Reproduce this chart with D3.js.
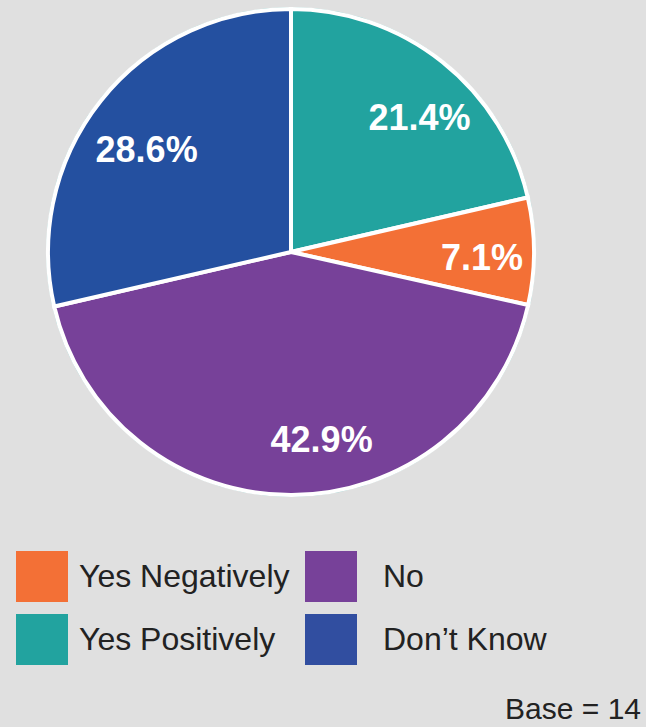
<!DOCTYPE html>
<html><head><meta charset="utf-8">
<script src="https://cdn.jsdelivr.net/npm/d3@7"></script>
<style>
html,body{margin:0;padding:0;background:#E0E0E0;}
svg{display:block;font-family:"Liberation Sans",Arial,sans-serif;}
</style></head>
<body><svg id="c" width="646" height="727"></svg>
<script>
const categories = ["Yes Positively","Yes Negatively","No","Don’t Know"];
const values = [21.4, 7.1, 42.9, 28.6];
const labels = ["21.4%","7.1%","42.9%","28.6%"];
const colors = ["#22A39F","#F37036","#774199","#2450A0"];
const legendOrder = ["Yes Negatively","No","Yes Positively","Don’t Know"];
const legendColors = {"Yes Negatively":"#F37036","No":"#774199","Yes Positively":"#22A39F","Don’t Know":"#314EA0"};
const baseText = "Base = 14";

const svg = d3.select("#c");
const cx = 291, cy = 252, R = 243;
const g = svg.append("g").attr("transform", `translate(${cx},${cy})`);
const pie = d3.pie().sort(null).value(d => d)(values);
const arc = d3.arc().innerRadius(0).outerRadius(R);
const labelArc = d3.arc().innerRadius(R*0.77).outerRadius(R*0.77);

g.append("circle").attr("r", R+1.5).attr("fill","#ffffff").attr("stroke","#7fc9c6").attr("stroke-width",0.8);
g.selectAll("path.s").data(pie).join("path").attr("class","s")
  .attr("d", arc).attr("fill", (d,i) => colors[i])
  .attr("stroke","#ffffff").attr("stroke-width",4).attr("stroke-linejoin","miter");

const nudges = [[12,12],[4,6],[30,0],[2,14]];
g.selectAll("text.l").data(pie).join("text").attr("class","l")
  .attr("x", (d,i) => labelArc.centroid(d)[0] + nudges[i][0])
  .attr("y", (d,i) => labelArc.centroid(d)[1] + nudges[i][1])
  .attr("text-anchor","middle").attr("dominant-baseline","central")
  .attr("fill","#ffffff").attr("font-weight","bold").attr("font-size",36)
  .text((d,i) => labels[i]);

const lg = svg.append("g");
const colX = [16, 305], rowY = [551, 614];
legendOrder.forEach((name, i) => {
  const x = colX[i % 2], y = rowY[Math.floor(i / 2)];
  lg.append("rect").attr("x", x).attr("y", y).attr("width", 52).attr("height", 51).attr("fill", legendColors[name]);
  lg.append("text").attr("x", x + (i % 2 ? 78 : 63)).attr("y", y + 36)
    .attr("font-size", 32).attr("fill", "#222222").text(name);
});
svg.append("text").attr("x", 641).attr("y", 719).attr("text-anchor","end")
  .attr("font-size", 30).attr("fill","#222222").text(baseText);
</script></body></html>
